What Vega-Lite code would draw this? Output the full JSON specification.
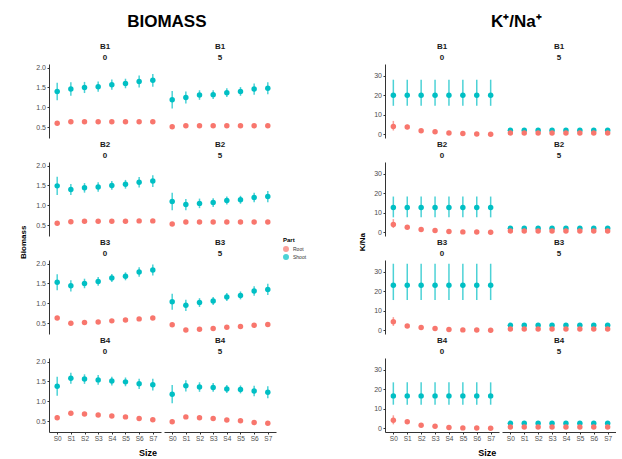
{
  "$schema": "https://vega.github.io/schema/vega-lite/v6.json",
  "background": "white",
  "padding": {"left": 19, "top": 12, "right": 0, "bottom": 0},
  "config": {
    "font": "Liberation Sans",
    "view": {"stroke": null},
    "axis": {"grid": false, "domainColor": "#333333", "tickColor": "#333333", "labelColor": "#4d4d4d", "labelFontSize": 7, "tickSize": 2, "titleFontSize": 8, "titleFontWeight": "bold", "titleColor": "#000000", "labelPadding": 1.5, "labelOverlap": false},
    "axisX": {"labelFontSize": 6.5},
    "legend": {"orient": "none", "legendX": 234, "legendY": 173, "titleFontSize": 6, "labelFontSize": 5, "symbolSize": 20, "rowPadding": 0, "clipHeight": 8, "titleColor": "#000000", "labelColor": "#333333", "titlePadding": 2, "labelOffset": 4},
    "title": {"fontSize": 17, "fontWeight": "bold", "color": "#000000", "anchor": "middle", "offset": 12}
  },
  "datasets": {
    "bm": [
      {"f":"B1|0","s":"S0","p":"Shoot","v":1.40,"lo":1.18,"hi":1.62},
      {"f":"B1|0","s":"S1","p":"Shoot","v":1.46,"lo":1.29,"hi":1.63},
      {"f":"B1|0","s":"S2","p":"Shoot","v":1.50,"lo":1.36,"hi":1.64},
      {"f":"B1|0","s":"S3","p":"Shoot","v":1.52,"lo":1.39,"hi":1.65},
      {"f":"B1|0","s":"S4","p":"Shoot","v":1.57,"lo":1.44,"hi":1.70},
      {"f":"B1|0","s":"S5","p":"Shoot","v":1.60,"lo":1.48,"hi":1.72},
      {"f":"B1|0","s":"S6","p":"Shoot","v":1.65,"lo":1.50,"hi":1.80},
      {"f":"B1|0","s":"S7","p":"Shoot","v":1.68,"lo":1.52,"hi":1.84},
      {"f":"B1|0","s":"S0","p":"Root","v":0.60,"lo":0.55,"hi":0.65},
      {"f":"B1|0","s":"S1","p":"Root","v":0.64,"lo":0.61,"hi":0.67},
      {"f":"B1|0","s":"S2","p":"Root","v":0.64,"lo":0.61,"hi":0.67},
      {"f":"B1|0","s":"S3","p":"Root","v":0.64,"lo":0.61,"hi":0.67},
      {"f":"B1|0","s":"S4","p":"Root","v":0.64,"lo":0.61,"hi":0.67},
      {"f":"B1|0","s":"S5","p":"Root","v":0.64,"lo":0.61,"hi":0.67},
      {"f":"B1|0","s":"S6","p":"Root","v":0.64,"lo":0.61,"hi":0.67},
      {"f":"B1|0","s":"S7","p":"Root","v":0.64,"lo":0.61,"hi":0.67},
      {"f":"B1|5","s":"S0","p":"Shoot","v":1.19,"lo":0.97,"hi":1.41},
      {"f":"B1|5","s":"S1","p":"Shoot","v":1.25,"lo":1.10,"hi":1.40},
      {"f":"B1|5","s":"S2","p":"Shoot","v":1.31,"lo":1.19,"hi":1.43},
      {"f":"B1|5","s":"S3","p":"Shoot","v":1.32,"lo":1.21,"hi":1.43},
      {"f":"B1|5","s":"S4","p":"Shoot","v":1.37,"lo":1.26,"hi":1.48},
      {"f":"B1|5","s":"S5","p":"Shoot","v":1.40,"lo":1.29,"hi":1.51},
      {"f":"B1|5","s":"S6","p":"Shoot","v":1.46,"lo":1.32,"hi":1.60},
      {"f":"B1|5","s":"S7","p":"Shoot","v":1.48,"lo":1.33,"hi":1.63},
      {"f":"B1|5","s":"S0","p":"Root","v":0.51,"lo":0.46,"hi":0.56},
      {"f":"B1|5","s":"S1","p":"Root","v":0.54,"lo":0.51,"hi":0.57},
      {"f":"B1|5","s":"S2","p":"Root","v":0.54,"lo":0.51,"hi":0.57},
      {"f":"B1|5","s":"S3","p":"Root","v":0.54,"lo":0.51,"hi":0.57},
      {"f":"B1|5","s":"S4","p":"Root","v":0.54,"lo":0.51,"hi":0.57},
      {"f":"B1|5","s":"S5","p":"Root","v":0.54,"lo":0.51,"hi":0.57},
      {"f":"B1|5","s":"S6","p":"Root","v":0.54,"lo":0.51,"hi":0.57},
      {"f":"B1|5","s":"S7","p":"Root","v":0.54,"lo":0.51,"hi":0.57},
      {"f":"B2|0","s":"S0","p":"Shoot","v":1.49,"lo":1.26,"hi":1.72},
      {"f":"B2|0","s":"S1","p":"Shoot","v":1.40,"lo":1.26,"hi":1.54},
      {"f":"B2|0","s":"S2","p":"Shoot","v":1.44,"lo":1.32,"hi":1.56},
      {"f":"B2|0","s":"S3","p":"Shoot","v":1.46,"lo":1.34,"hi":1.58},
      {"f":"B2|0","s":"S4","p":"Shoot","v":1.50,"lo":1.39,"hi":1.61},
      {"f":"B2|0","s":"S5","p":"Shoot","v":1.53,"lo":1.42,"hi":1.64},
      {"f":"B2|0","s":"S6","p":"Shoot","v":1.58,"lo":1.45,"hi":1.71},
      {"f":"B2|0","s":"S7","p":"Shoot","v":1.61,"lo":1.46,"hi":1.76},
      {"f":"B2|0","s":"S0","p":"Root","v":0.55,"lo":0.50,"hi":0.60},
      {"f":"B2|0","s":"S1","p":"Root","v":0.59,"lo":0.56,"hi":0.62},
      {"f":"B2|0","s":"S2","p":"Root","v":0.60,"lo":0.57,"hi":0.63},
      {"f":"B2|0","s":"S3","p":"Root","v":0.60,"lo":0.57,"hi":0.63},
      {"f":"B2|0","s":"S4","p":"Root","v":0.60,"lo":0.57,"hi":0.63},
      {"f":"B2|0","s":"S5","p":"Root","v":0.60,"lo":0.57,"hi":0.63},
      {"f":"B2|0","s":"S6","p":"Root","v":0.61,"lo":0.58,"hi":0.64},
      {"f":"B2|0","s":"S7","p":"Root","v":0.61,"lo":0.58,"hi":0.64},
      {"f":"B2|5","s":"S0","p":"Shoot","v":1.10,"lo":0.88,"hi":1.32},
      {"f":"B2|5","s":"S1","p":"Shoot","v":1.02,"lo":0.88,"hi":1.16},
      {"f":"B2|5","s":"S2","p":"Shoot","v":1.05,"lo":0.93,"hi":1.17},
      {"f":"B2|5","s":"S3","p":"Shoot","v":1.07,"lo":0.96,"hi":1.18},
      {"f":"B2|5","s":"S4","p":"Shoot","v":1.12,"lo":1.02,"hi":1.22},
      {"f":"B2|5","s":"S5","p":"Shoot","v":1.14,"lo":1.04,"hi":1.24},
      {"f":"B2|5","s":"S6","p":"Shoot","v":1.20,"lo":1.08,"hi":1.32},
      {"f":"B2|5","s":"S7","p":"Shoot","v":1.22,"lo":1.08,"hi":1.36},
      {"f":"B2|5","s":"S0","p":"Root","v":0.53,"lo":0.48,"hi":0.58},
      {"f":"B2|5","s":"S1","p":"Root","v":0.58,"lo":0.55,"hi":0.61},
      {"f":"B2|5","s":"S2","p":"Root","v":0.58,"lo":0.55,"hi":0.61},
      {"f":"B2|5","s":"S3","p":"Root","v":0.58,"lo":0.55,"hi":0.61},
      {"f":"B2|5","s":"S4","p":"Root","v":0.58,"lo":0.55,"hi":0.61},
      {"f":"B2|5","s":"S5","p":"Root","v":0.58,"lo":0.55,"hi":0.61},
      {"f":"B2|5","s":"S6","p":"Root","v":0.58,"lo":0.55,"hi":0.61},
      {"f":"B2|5","s":"S7","p":"Root","v":0.58,"lo":0.55,"hi":0.61},
      {"f":"B3|0","s":"S0","p":"Shoot","v":1.53,"lo":1.33,"hi":1.73},
      {"f":"B3|0","s":"S1","p":"Shoot","v":1.44,"lo":1.30,"hi":1.58},
      {"f":"B3|0","s":"S2","p":"Shoot","v":1.50,"lo":1.38,"hi":1.62},
      {"f":"B3|0","s":"S3","p":"Shoot","v":1.55,"lo":1.44,"hi":1.66},
      {"f":"B3|0","s":"S4","p":"Shoot","v":1.64,"lo":1.54,"hi":1.74},
      {"f":"B3|0","s":"S5","p":"Shoot","v":1.68,"lo":1.58,"hi":1.78},
      {"f":"B3|0","s":"S6","p":"Shoot","v":1.79,"lo":1.67,"hi":1.91},
      {"f":"B3|0","s":"S7","p":"Shoot","v":1.84,"lo":1.70,"hi":1.98},
      {"f":"B3|0","s":"S0","p":"Root","v":0.63,"lo":0.58,"hi":0.68},
      {"f":"B3|0","s":"S1","p":"Root","v":0.50,"lo":0.47,"hi":0.53},
      {"f":"B3|0","s":"S2","p":"Root","v":0.52,"lo":0.49,"hi":0.55},
      {"f":"B3|0","s":"S3","p":"Root","v":0.53,"lo":0.50,"hi":0.56},
      {"f":"B3|0","s":"S4","p":"Root","v":0.56,"lo":0.53,"hi":0.59},
      {"f":"B3|0","s":"S5","p":"Root","v":0.58,"lo":0.55,"hi":0.61},
      {"f":"B3|0","s":"S6","p":"Root","v":0.61,"lo":0.58,"hi":0.64},
      {"f":"B3|0","s":"S7","p":"Root","v":0.63,"lo":0.60,"hi":0.66},
      {"f":"B3|5","s":"S0","p":"Shoot","v":1.04,"lo":0.84,"hi":1.24},
      {"f":"B3|5","s":"S1","p":"Shoot","v":0.95,"lo":0.81,"hi":1.09},
      {"f":"B3|5","s":"S2","p":"Shoot","v":1.02,"lo":0.91,"hi":1.13},
      {"f":"B3|5","s":"S3","p":"Shoot","v":1.06,"lo":0.96,"hi":1.16},
      {"f":"B3|5","s":"S4","p":"Shoot","v":1.16,"lo":1.06,"hi":1.26},
      {"f":"B3|5","s":"S5","p":"Shoot","v":1.20,"lo":1.10,"hi":1.30},
      {"f":"B3|5","s":"S6","p":"Shoot","v":1.31,"lo":1.19,"hi":1.43},
      {"f":"B3|5","s":"S7","p":"Shoot","v":1.35,"lo":1.21,"hi":1.49},
      {"f":"B3|5","s":"S0","p":"Root","v":0.46,"lo":0.41,"hi":0.51},
      {"f":"B3|5","s":"S1","p":"Root","v":0.33,"lo":0.30,"hi":0.36},
      {"f":"B3|5","s":"S2","p":"Root","v":0.35,"lo":0.32,"hi":0.38},
      {"f":"B3|5","s":"S3","p":"Root","v":0.37,"lo":0.34,"hi":0.40},
      {"f":"B3|5","s":"S4","p":"Root","v":0.40,"lo":0.37,"hi":0.43},
      {"f":"B3|5","s":"S5","p":"Root","v":0.42,"lo":0.39,"hi":0.45},
      {"f":"B3|5","s":"S6","p":"Root","v":0.45,"lo":0.42,"hi":0.48},
      {"f":"B3|5","s":"S7","p":"Root","v":0.47,"lo":0.44,"hi":0.50},
      {"f":"B4|0","s":"S0","p":"Shoot","v":1.38,"lo":1.14,"hi":1.62},
      {"f":"B4|0","s":"S1","p":"Shoot","v":1.58,"lo":1.44,"hi":1.72},
      {"f":"B4|0","s":"S2","p":"Shoot","v":1.56,"lo":1.44,"hi":1.68},
      {"f":"B4|0","s":"S3","p":"Shoot","v":1.54,"lo":1.42,"hi":1.66},
      {"f":"B4|0","s":"S4","p":"Shoot","v":1.51,"lo":1.40,"hi":1.62},
      {"f":"B4|0","s":"S5","p":"Shoot","v":1.49,"lo":1.38,"hi":1.60},
      {"f":"B4|0","s":"S6","p":"Shoot","v":1.44,"lo":1.31,"hi":1.57},
      {"f":"B4|0","s":"S7","p":"Shoot","v":1.42,"lo":1.27,"hi":1.57},
      {"f":"B4|0","s":"S0","p":"Root","v":0.59,"lo":0.53,"hi":0.65},
      {"f":"B4|0","s":"S1","p":"Root","v":0.70,"lo":0.67,"hi":0.73},
      {"f":"B4|0","s":"S2","p":"Root","v":0.68,"lo":0.65,"hi":0.71},
      {"f":"B4|0","s":"S3","p":"Root","v":0.66,"lo":0.63,"hi":0.69},
      {"f":"B4|0","s":"S4","p":"Root","v":0.63,"lo":0.60,"hi":0.66},
      {"f":"B4|0","s":"S5","p":"Root","v":0.61,"lo":0.58,"hi":0.64},
      {"f":"B4|0","s":"S6","p":"Root","v":0.57,"lo":0.54,"hi":0.60},
      {"f":"B4|0","s":"S7","p":"Root","v":0.54,"lo":0.51,"hi":0.57},
      {"f":"B4|5","s":"S0","p":"Shoot","v":1.18,"lo":0.95,"hi":1.41},
      {"f":"B4|5","s":"S1","p":"Shoot","v":1.39,"lo":1.25,"hi":1.53},
      {"f":"B4|5","s":"S2","p":"Shoot","v":1.36,"lo":1.24,"hi":1.48},
      {"f":"B4|5","s":"S3","p":"Shoot","v":1.35,"lo":1.24,"hi":1.46},
      {"f":"B4|5","s":"S4","p":"Shoot","v":1.31,"lo":1.21,"hi":1.41},
      {"f":"B4|5","s":"S5","p":"Shoot","v":1.30,"lo":1.20,"hi":1.40},
      {"f":"B4|5","s":"S6","p":"Shoot","v":1.26,"lo":1.13,"hi":1.39},
      {"f":"B4|5","s":"S7","p":"Shoot","v":1.23,"lo":1.08,"hi":1.38},
      {"f":"B4|5","s":"S0","p":"Root","v":0.49,"lo":0.43,"hi":0.55},
      {"f":"B4|5","s":"S1","p":"Root","v":0.61,"lo":0.58,"hi":0.64},
      {"f":"B4|5","s":"S2","p":"Root","v":0.59,"lo":0.56,"hi":0.62},
      {"f":"B4|5","s":"S3","p":"Root","v":0.57,"lo":0.54,"hi":0.60},
      {"f":"B4|5","s":"S4","p":"Root","v":0.53,"lo":0.50,"hi":0.56},
      {"f":"B4|5","s":"S5","p":"Root","v":0.51,"lo":0.48,"hi":0.54},
      {"f":"B4|5","s":"S6","p":"Root","v":0.47,"lo":0.44,"hi":0.50},
      {"f":"B4|5","s":"S7","p":"Root","v":0.45,"lo":0.42,"hi":0.48}
    ],
    "kn": [
      {"f":"B1|0","s":"S0","p":"Shoot","v":20.0,"lo":14.6,"hi":27.9},
      {"f":"B1|0","s":"S1","p":"Shoot","v":20.0,"lo":14.6,"hi":27.9},
      {"f":"B1|0","s":"S2","p":"Shoot","v":20.0,"lo":14.6,"hi":27.9},
      {"f":"B1|0","s":"S3","p":"Shoot","v":20.0,"lo":14.6,"hi":27.9},
      {"f":"B1|0","s":"S4","p":"Shoot","v":20.0,"lo":14.6,"hi":27.9},
      {"f":"B1|0","s":"S5","p":"Shoot","v":20.0,"lo":14.6,"hi":27.9},
      {"f":"B1|0","s":"S6","p":"Shoot","v":20.0,"lo":14.6,"hi":27.9},
      {"f":"B1|0","s":"S7","p":"Shoot","v":20.0,"lo":14.6,"hi":27.9},
      {"f":"B1|0","s":"S0","p":"Root","v":4.1,"lo":2.0,"hi":6.9},
      {"f":"B1|0","s":"S1","p":"Root","v":3.8,"lo":2.6,"hi":5.0},
      {"f":"B1|0","s":"S2","p":"Root","v":1.9,"lo":1.5,"hi":2.3},
      {"f":"B1|0","s":"S3","p":"Root","v":1.4,"lo":1.1,"hi":1.7},
      {"f":"B1|0","s":"S4","p":"Root","v":0.7,"lo":0.5,"hi":0.9},
      {"f":"B1|0","s":"S5","p":"Root","v":0.5,"lo":0.3,"hi":0.7},
      {"f":"B1|0","s":"S6","p":"Root","v":0.2,"lo":0.1,"hi":0.3},
      {"f":"B1|0","s":"S7","p":"Root","v":0.1,"lo":0.0,"hi":0.2},
      {"f":"B1|5","s":"S0","p":"Shoot","v":2.2,"lo":1.9,"hi":2.5},
      {"f":"B1|5","s":"S1","p":"Shoot","v":2.2,"lo":1.9,"hi":2.5},
      {"f":"B1|5","s":"S2","p":"Shoot","v":2.2,"lo":1.9,"hi":2.5},
      {"f":"B1|5","s":"S3","p":"Shoot","v":2.2,"lo":1.9,"hi":2.5},
      {"f":"B1|5","s":"S4","p":"Shoot","v":2.2,"lo":1.9,"hi":2.5},
      {"f":"B1|5","s":"S5","p":"Shoot","v":2.2,"lo":1.9,"hi":2.5},
      {"f":"B1|5","s":"S6","p":"Shoot","v":2.2,"lo":1.9,"hi":2.5},
      {"f":"B1|5","s":"S7","p":"Shoot","v":2.2,"lo":1.9,"hi":2.5},
      {"f":"B1|5","s":"S0","p":"Root","v":0.8,"lo":0.6,"hi":1.0},
      {"f":"B1|5","s":"S1","p":"Root","v":0.8,"lo":0.6,"hi":1.0},
      {"f":"B1|5","s":"S2","p":"Root","v":0.8,"lo":0.6,"hi":1.0},
      {"f":"B1|5","s":"S3","p":"Root","v":0.8,"lo":0.6,"hi":1.0},
      {"f":"B1|5","s":"S4","p":"Root","v":0.8,"lo":0.6,"hi":1.0},
      {"f":"B1|5","s":"S5","p":"Root","v":0.8,"lo":0.6,"hi":1.0},
      {"f":"B1|5","s":"S6","p":"Root","v":0.8,"lo":0.6,"hi":1.0},
      {"f":"B1|5","s":"S7","p":"Root","v":0.8,"lo":0.6,"hi":1.0},
      {"f":"B2|0","s":"S0","p":"Shoot","v":12.7,"lo":7.7,"hi":18.3},
      {"f":"B2|0","s":"S1","p":"Shoot","v":12.7,"lo":7.7,"hi":18.3},
      {"f":"B2|0","s":"S2","p":"Shoot","v":12.7,"lo":7.7,"hi":18.3},
      {"f":"B2|0","s":"S3","p":"Shoot","v":12.7,"lo":7.7,"hi":18.3},
      {"f":"B2|0","s":"S4","p":"Shoot","v":12.7,"lo":7.7,"hi":18.3},
      {"f":"B2|0","s":"S5","p":"Shoot","v":12.7,"lo":7.7,"hi":18.3},
      {"f":"B2|0","s":"S6","p":"Shoot","v":12.7,"lo":7.7,"hi":18.3},
      {"f":"B2|0","s":"S7","p":"Shoot","v":12.7,"lo":7.7,"hi":18.3},
      {"f":"B2|0","s":"S0","p":"Root","v":4.1,"lo":2.3,"hi":6.8},
      {"f":"B2|0","s":"S1","p":"Root","v":2.6,"lo":2.1,"hi":3.1},
      {"f":"B2|0","s":"S2","p":"Root","v":1.5,"lo":1.2,"hi":1.8},
      {"f":"B2|0","s":"S3","p":"Root","v":1.0,"lo":0.8,"hi":1.2},
      {"f":"B2|0","s":"S4","p":"Root","v":0.5,"lo":0.3,"hi":0.7},
      {"f":"B2|0","s":"S5","p":"Root","v":0.3,"lo":0.2,"hi":0.4},
      {"f":"B2|0","s":"S6","p":"Root","v":0.2,"lo":0.1,"hi":0.3},
      {"f":"B2|0","s":"S7","p":"Root","v":0.1,"lo":0.0,"hi":0.2},
      {"f":"B2|5","s":"S0","p":"Shoot","v":2.1,"lo":1.8,"hi":2.4},
      {"f":"B2|5","s":"S1","p":"Shoot","v":2.1,"lo":1.8,"hi":2.4},
      {"f":"B2|5","s":"S2","p":"Shoot","v":2.1,"lo":1.8,"hi":2.4},
      {"f":"B2|5","s":"S3","p":"Shoot","v":2.1,"lo":1.8,"hi":2.4},
      {"f":"B2|5","s":"S4","p":"Shoot","v":2.1,"lo":1.8,"hi":2.4},
      {"f":"B2|5","s":"S5","p":"Shoot","v":2.1,"lo":1.8,"hi":2.4},
      {"f":"B2|5","s":"S6","p":"Shoot","v":2.1,"lo":1.8,"hi":2.4},
      {"f":"B2|5","s":"S7","p":"Shoot","v":2.1,"lo":1.8,"hi":2.4},
      {"f":"B2|5","s":"S0","p":"Root","v":0.8,"lo":0.6,"hi":1.0},
      {"f":"B2|5","s":"S1","p":"Root","v":0.8,"lo":0.6,"hi":1.0},
      {"f":"B2|5","s":"S2","p":"Root","v":0.8,"lo":0.6,"hi":1.0},
      {"f":"B2|5","s":"S3","p":"Root","v":0.8,"lo":0.6,"hi":1.0},
      {"f":"B2|5","s":"S4","p":"Root","v":0.8,"lo":0.6,"hi":1.0},
      {"f":"B2|5","s":"S5","p":"Root","v":0.8,"lo":0.6,"hi":1.0},
      {"f":"B2|5","s":"S6","p":"Root","v":0.8,"lo":0.6,"hi":1.0},
      {"f":"B2|5","s":"S7","p":"Root","v":0.8,"lo":0.6,"hi":1.0},
      {"f":"B3|0","s":"S0","p":"Shoot","v":23.0,"lo":15.5,"hi":34.0},
      {"f":"B3|0","s":"S1","p":"Shoot","v":23.0,"lo":15.5,"hi":34.0},
      {"f":"B3|0","s":"S2","p":"Shoot","v":23.0,"lo":15.5,"hi":34.0},
      {"f":"B3|0","s":"S3","p":"Shoot","v":23.0,"lo":15.5,"hi":34.0},
      {"f":"B3|0","s":"S4","p":"Shoot","v":23.0,"lo":15.5,"hi":34.0},
      {"f":"B3|0","s":"S5","p":"Shoot","v":23.0,"lo":15.5,"hi":34.0},
      {"f":"B3|0","s":"S6","p":"Shoot","v":23.0,"lo":15.5,"hi":34.0},
      {"f":"B3|0","s":"S7","p":"Shoot","v":23.0,"lo":15.5,"hi":34.0},
      {"f":"B3|0","s":"S0","p":"Root","v":4.4,"lo":2.3,"hi":6.8},
      {"f":"B3|0","s":"S1","p":"Root","v":2.3,"lo":1.9,"hi":2.7},
      {"f":"B3|0","s":"S2","p":"Root","v":1.5,"lo":1.2,"hi":1.8},
      {"f":"B3|0","s":"S3","p":"Root","v":1.0,"lo":0.8,"hi":1.2},
      {"f":"B3|0","s":"S4","p":"Root","v":0.5,"lo":0.3,"hi":0.7},
      {"f":"B3|0","s":"S5","p":"Root","v":0.3,"lo":0.2,"hi":0.4},
      {"f":"B3|0","s":"S6","p":"Root","v":0.2,"lo":0.1,"hi":0.3},
      {"f":"B3|0","s":"S7","p":"Root","v":0.1,"lo":0.0,"hi":0.2},
      {"f":"B3|5","s":"S0","p":"Shoot","v":2.6,"lo":2.3,"hi":2.9},
      {"f":"B3|5","s":"S1","p":"Shoot","v":2.6,"lo":2.3,"hi":2.9},
      {"f":"B3|5","s":"S2","p":"Shoot","v":2.6,"lo":2.3,"hi":2.9},
      {"f":"B3|5","s":"S3","p":"Shoot","v":2.6,"lo":2.3,"hi":2.9},
      {"f":"B3|5","s":"S4","p":"Shoot","v":2.6,"lo":2.3,"hi":2.9},
      {"f":"B3|5","s":"S5","p":"Shoot","v":2.6,"lo":2.3,"hi":2.9},
      {"f":"B3|5","s":"S6","p":"Shoot","v":2.6,"lo":2.3,"hi":2.9},
      {"f":"B3|5","s":"S7","p":"Shoot","v":2.6,"lo":2.3,"hi":2.9},
      {"f":"B3|5","s":"S0","p":"Root","v":0.7,"lo":0.5,"hi":0.9},
      {"f":"B3|5","s":"S1","p":"Root","v":0.7,"lo":0.5,"hi":0.9},
      {"f":"B3|5","s":"S2","p":"Root","v":0.7,"lo":0.5,"hi":0.9},
      {"f":"B3|5","s":"S3","p":"Root","v":0.7,"lo":0.5,"hi":0.9},
      {"f":"B3|5","s":"S4","p":"Root","v":0.7,"lo":0.5,"hi":0.9},
      {"f":"B3|5","s":"S5","p":"Root","v":0.7,"lo":0.5,"hi":0.9},
      {"f":"B3|5","s":"S6","p":"Root","v":0.7,"lo":0.5,"hi":0.9},
      {"f":"B3|5","s":"S7","p":"Root","v":0.7,"lo":0.5,"hi":0.9},
      {"f":"B4|0","s":"S0","p":"Shoot","v":16.6,"lo":12.1,"hi":23.5},
      {"f":"B4|0","s":"S1","p":"Shoot","v":16.6,"lo":12.1,"hi":23.5},
      {"f":"B4|0","s":"S2","p":"Shoot","v":16.6,"lo":12.1,"hi":23.5},
      {"f":"B4|0","s":"S3","p":"Shoot","v":16.6,"lo":12.1,"hi":23.5},
      {"f":"B4|0","s":"S4","p":"Shoot","v":16.6,"lo":12.1,"hi":23.5},
      {"f":"B4|0","s":"S5","p":"Shoot","v":16.6,"lo":12.1,"hi":23.5},
      {"f":"B4|0","s":"S6","p":"Shoot","v":16.6,"lo":12.1,"hi":23.5},
      {"f":"B4|0","s":"S7","p":"Shoot","v":16.6,"lo":12.1,"hi":23.5},
      {"f":"B4|0","s":"S0","p":"Root","v":4.2,"lo":2.1,"hi":6.7},
      {"f":"B4|0","s":"S1","p":"Root","v":3.4,"lo":2.6,"hi":4.2},
      {"f":"B4|0","s":"S2","p":"Root","v":1.6,"lo":1.3,"hi":1.9},
      {"f":"B4|0","s":"S3","p":"Root","v":1.1,"lo":0.9,"hi":1.3},
      {"f":"B4|0","s":"S4","p":"Root","v":0.5,"lo":0.3,"hi":0.7},
      {"f":"B4|0","s":"S5","p":"Root","v":0.3,"lo":0.2,"hi":0.4},
      {"f":"B4|0","s":"S6","p":"Root","v":0.2,"lo":0.1,"hi":0.3},
      {"f":"B4|0","s":"S7","p":"Root","v":0.1,"lo":0.0,"hi":0.2},
      {"f":"B4|5","s":"S0","p":"Shoot","v":2.6,"lo":2.3,"hi":2.9},
      {"f":"B4|5","s":"S1","p":"Shoot","v":2.6,"lo":2.3,"hi":2.9},
      {"f":"B4|5","s":"S2","p":"Shoot","v":2.6,"lo":2.3,"hi":2.9},
      {"f":"B4|5","s":"S3","p":"Shoot","v":2.6,"lo":2.3,"hi":2.9},
      {"f":"B4|5","s":"S4","p":"Shoot","v":2.6,"lo":2.3,"hi":2.9},
      {"f":"B4|5","s":"S5","p":"Shoot","v":2.6,"lo":2.3,"hi":2.9},
      {"f":"B4|5","s":"S6","p":"Shoot","v":2.6,"lo":2.3,"hi":2.9},
      {"f":"B4|5","s":"S7","p":"Shoot","v":2.6,"lo":2.3,"hi":2.9},
      {"f":"B4|5","s":"S0","p":"Root","v":0.7,"lo":0.5,"hi":0.9},
      {"f":"B4|5","s":"S1","p":"Root","v":0.7,"lo":0.5,"hi":0.9},
      {"f":"B4|5","s":"S2","p":"Root","v":0.7,"lo":0.5,"hi":0.9},
      {"f":"B4|5","s":"S3","p":"Root","v":0.7,"lo":0.5,"hi":0.9},
      {"f":"B4|5","s":"S4","p":"Root","v":0.7,"lo":0.5,"hi":0.9},
      {"f":"B4|5","s":"S5","p":"Root","v":0.7,"lo":0.5,"hi":0.9},
      {"f":"B4|5","s":"S6","p":"Root","v":0.7,"lo":0.5,"hi":0.9},
      {"f":"B4|5","s":"S7","p":"Root","v":0.7,"lo":0.5,"hi":0.9}
    ]
  },
  "hconcat": [
    {
      "title": {"text": "BIOMASS", "dx": 19},
      "vconcat": [
        {
          "title": {"text": "Size", "orient": "bottom", "fontSize": 9, "offset": 7},
          "vconcat": [
            {
              "data": {"name": "bm"},
              "title": {"text": "Biomass", "orient": "left", "fontSize": 8, "offset": 8},
              "facet": {"field": "f", "type": "nominal", "title": null, "header": {"labelExpr": "split(datum.value, '|')", "labelFontWeight": "bold", "labelFontSize": 8, "labelColor": "#1a1a1a", "labelPadding": 2, "labelLineHeight": 11.5}},
              "columns": 2,
              "spacing": {"row": 2, "column": 3},
              "spec": {
                "width": 112,
                "height": 74,
                "encoding": {
                  "x": {"field": "s", "type": "ordinal", "scale": {"type": "point", "padding": 0.6}, "axis": {"labelAngle": 0, "title": null}},
                  "color": {"field": "p", "type": "nominal", "scale": {"domain": ["Root", "Shoot"], "range": ["#F8766D", "#00BFC4"]}, "legend": {"title": "Part"}}
                },
                "layer": [
                  {"mark": {"type": "rule", "strokeWidth": 1.5, "opacity": 0.7}, "encoding": {"y": {"field": "lo", "type": "quantitative", "title": null, "scale": {"domain": [0.23, 2.09], "nice": false, "zero": false}, "axis": {"values": [0.5, 1, 1.5, 2], "format": ".1f", "tickCount": 4}}, "y2": {"field": "hi"}}},
                  {"mark": {"type": "circle", "size": 30, "opacity": 1}, "encoding": {"y": {"field": "v", "type": "quantitative", "title": null, "axis": {"values": [0.5, 1, 1.5, 2], "format": ".1f", "tickCount": 4}}}}
                ]
              }
            }
          ]
        }
      ]
    },
    {
      "title": {"text": "K⁺/Na⁺", "dx": 29},
      "vconcat": [
        {
          "title": {"text": "Size", "orient": "bottom", "fontSize": 9, "offset": 7},
          "vconcat": [
            {
              "data": {"name": "kn"},
              "title": {"text": "K/Na", "orient": "left", "fontSize": 8, "offset": 7},
              "facet": {"field": "f", "type": "nominal", "title": null, "header": {"labelExpr": "split(datum.value, '|')", "labelFontWeight": "bold", "labelFontSize": 8, "labelColor": "#1a1a1a", "labelPadding": 2, "labelLineHeight": 11.5}},
              "columns": 2,
              "spacing": {"row": 2, "column": 3},
              "spec": {
                "width": 114,
                "height": 74,
                "encoding": {
                  "x": {"field": "s", "type": "ordinal", "scale": {"type": "point", "padding": 0.6}, "axis": {"labelAngle": 0, "title": null}},
                  "color": {"field": "p", "type": "nominal", "scale": {"domain": ["Root", "Shoot"], "range": ["#F8766D", "#00BFC4"]}, "legend": {"title": "Part"}}
                },
                "layer": [
                  {"mark": {"type": "rule", "strokeWidth": 1.5, "opacity": 0.7}, "encoding": {"y": {"field": "lo", "type": "quantitative", "title": null, "scale": {"domain": [-1.8, 35.9], "nice": false, "zero": false}, "axis": {"values": [0, 10, 20, 30], "format": "d", "tickCount": 4}}, "y2": {"field": "hi"}}},
                  {"mark": {"type": "circle", "size": 30, "opacity": 1}, "encoding": {"y": {"field": "v", "type": "quantitative", "title": null, "axis": {"values": [0, 10, 20, 30], "format": "d", "tickCount": 4}}}}
                ]
              }
            }
          ]
        }
      ]
    }
  ],
  "spacing": 82,
  "resolve": {"scale": {"y": "independent", "x": "independent"}}
}
